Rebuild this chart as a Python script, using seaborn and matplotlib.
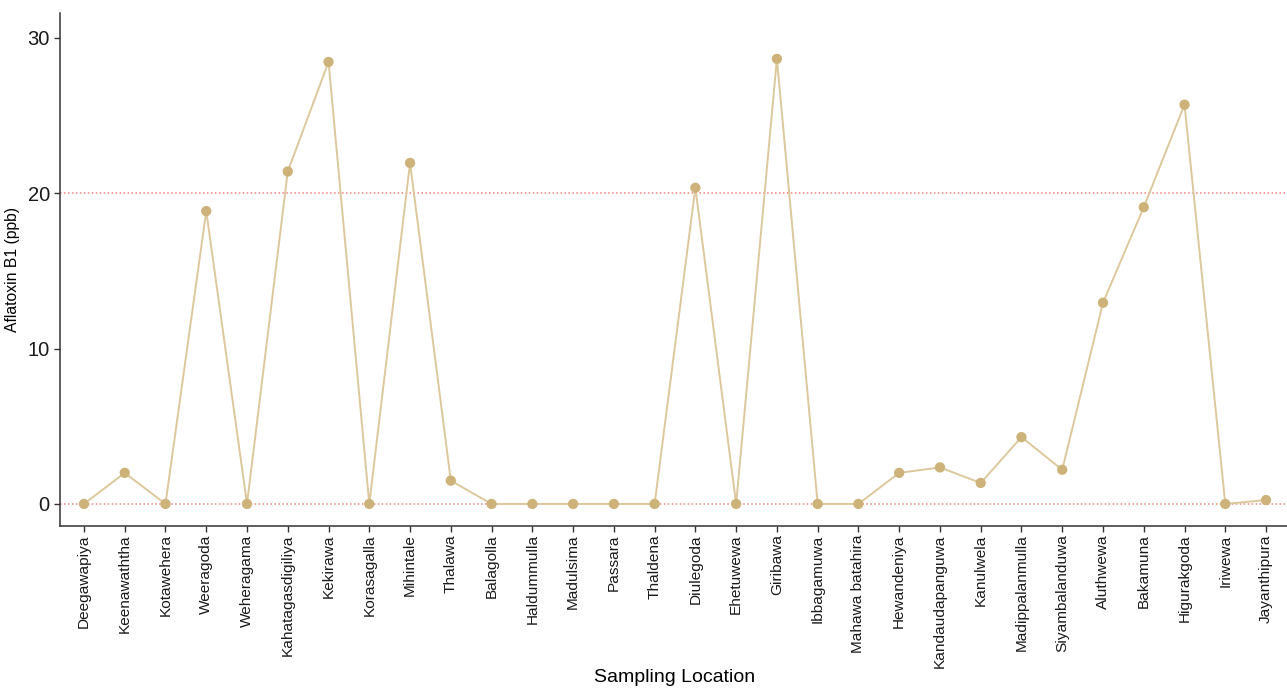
import matplotlib
matplotlib.use("Agg")
import matplotlib.pyplot as plt
import seaborn as sns
import pandas as pd

locations = [
    "Deegawapiya", "Keenawaththa", "Kotawehera", "Weeragoda", "Weheragama",
    "Kahatagasdigiliya", "Kekirawa", "Korasagalla", "Mihintale", "Thalawa",
    "Balagolla", "Haldummulla", "Madulsima", "Passara", "Thaldena",
    "Diulegoda", "Ehetuwewa", "Giribawa", "Ibbagamuwa", "Mahawa batahira",
    "Hewandeniya", "Kandaudapanguwa", "Kanulwela", "Madippalanmulla", "Siyambalanduwa",
    "Aluthwewa", "Bakamuna", "Higurakgoda", "Iriwewa", "Jayanthipura",
]
afb1 = [
    0.0, 2.0, 0.0, 18.85, 0.0,
    21.4, 28.45, 0.0, 21.95, 1.5,
    0.0, 0.0, 0.0, 0.0, 0.0,
    20.35, 0.0, 28.65, 0.0, 0.0,
    2.0, 2.35, 1.35, 4.3, 2.2,
    12.95, 19.1, 25.7, 0.0, 0.25,
]
limits = [0, 20]
yticks = [0, 10, 20, 30]

df = pd.DataFrame({"location": locations, "afb1": afb1})
df["pos"] = range(len(df))

sns.set_theme(style="ticks")
plt.rcParams["font.family"] = ["Liberation Sans", "DejaVu Sans"]

W, H = 1287, 688
fig = plt.figure(figsize=(W / 100, H / 100), dpi=100)
left, right, top, bottom = 59.5, 1290.5, 13, 526
ax = fig.add_axes([left / W, 1 - bottom / H, (right - left) / W, (bottom - top) / H])

for lim in limits:
    ax.axhline(lim, color="#F4827C", linestyle=(0, (1, 1.6)), linewidth=1.1, zorder=1)

sns.lineplot(data=df, x="pos", y="afb1", color="#DCC89C", linewidth=1.4,
             sort=False, ax=ax, zorder=2)
sns.scatterplot(data=df, x="pos", y="afb1", color="#CDB37A", s=55,
                edgecolor="none", ax=ax, zorder=3)

ax.set_xlim(-0.6, len(df) - 1 + 0.6)
ax.set_ylim(-1.42, 31.6)
ax.set_xticks(df["pos"])
ax.set_xticklabels(locations, rotation=90, fontsize=11.1, color="#1a1a1a")
ax.set_yticks(yticks)
ax.set_yticklabels([str(v) for v in yticks], fontsize=14.5, color="#1a1a1a")
ax.set_xlabel("Sampling Location", fontsize=14, color="black", va="top")
ax.xaxis.set_label_coords(0.5, -(669 - bottom) / (bottom - top))
ax.set_ylabel("Aflatoxin B1 (ppb)", fontsize=11.3, color="black", labelpad=5)

sns.despine(ax=ax)
for side in ("left", "bottom"):
    ax.spines[side].set_color("#333333")
    ax.spines[side].set_linewidth(1.1)
ax.tick_params(axis="both", length=4, width=1, color="#333333", pad=3)
ax.tick_params(axis="x", pad=2)

fig.savefig("out.png", dpi=100)
